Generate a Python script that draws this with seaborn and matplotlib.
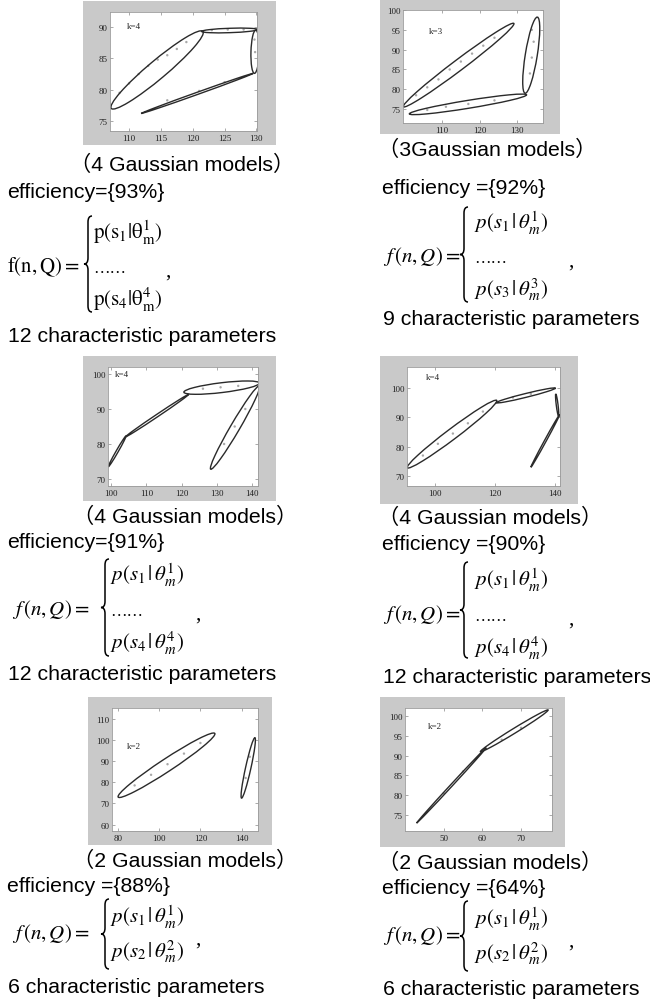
import numpy as np
import pandas as pd
import matplotlib
matplotlib.use("Agg")
import matplotlib.pyplot as plt
import seaborn as sns
from matplotlib.patches import Ellipse, Rectangle, PathPatch
from matplotlib.path import Path
from matplotlib.transforms import Affine2D

# ------------------------------------------------------------------ data
# each ellipse: major-axis end points (x1,y1)-(x2,y2) and minor-axis length w
p1_x1 = [107.2, 121.4, 129.7, 111.9]
p1_y1 = [77.0, 89.3, 82.6, 76.2]
p1_x2 = [121.6, 130.2, 129.9, 129.5]
p1_y2 = [89.3, 89.6, 89.5, 82.6]
p1_w = [2.9, 0.7, 1.3, 0.35]
p1_dx = [108.5, 110.0, 111.5, 113.0, 114.5, 116.0, 117.5, 119.0, 123.0, 125.5, 128.0, 129.8, 129.7, 116.0, 121.0, 125.0]
p1_dy = [79.5, 81.0, 82.5, 83.8, 84.8, 85.5, 86.5, 87.6, 89.5, 89.6, 89.6, 86.0, 88.0, 78.3, 79.8, 81.2]

p2_x1 = [99.6, 101.2, 132.2]
p2_y1 = [75.6, 73.8, 79.0]
p2_x2 = [129.2, 132.6, 135.5]
p2_y2 = [96.6, 78.6, 98.2]
p2_w = [2.8, 2.0, 3.2]
p2_dx = [103.0, 106.0, 109.0, 112.0, 115.0, 118.0, 121.0, 124.0, 106.0, 111.0, 117.0, 124.0, 133.5, 134.0, 134.5, 134.0]
p2_dy = [78.5, 80.5, 82.5, 85.0, 87.0, 89.0, 91.0, 93.0, 74.8, 75.6, 76.3, 77.2, 84.0, 88.0, 92.0, 95.0]

p3_x1 = [99.2, 104.0, 120.6, 128.2]
p3_y1 = [73.5, 82.0, 94.8, 72.8]
p3_x2 = [104.2, 122.0, 142.0, 142.0]
p3_y2 = [82.3, 94.2, 97.4, 96.6]
p3_w = [0.6, 0.7, 2.8, 2.6]
p3_dx = [126.0, 131.0, 136.0, 132.0, 135.0, 138.0]
p3_dy = [95.8, 96.2, 96.6, 80.0, 85.0, 90.0]

p4_x1 = [90.8, 120.4, 140.3, 132.0]
p4_y1 = [72.8, 95.0, 98.0, 73.0]
p4_x2 = [120.6, 140.2, 141.2, 141.6]
p4_y2 = [95.8, 100.0, 90.5, 91.0]
p4_w = [3.6, 1.3, 0.6, 0.6]
p4_dx = [96.0, 101.0, 106.0, 111.0, 116.0, 126.0, 132.0]
p4_dy = [77.0, 81.0, 84.5, 88.0, 92.0, 96.8, 98.0]

p5_x1 = [80.0, 140.0]
p5_y1 = [73.0, 72.5]
p5_x2 = [127.0, 146.5]
p5_y2 = [103.0, 101.0]
p5_w = [6.0, 2.6]
p5_dx = [88.0, 96.0, 104.0, 112.0, 120.0, 142.0, 144.0]
p5_dy = [78.5, 83.5, 88.5, 93.5, 98.5, 82.0, 92.0]

p6_x1 = [43.0, 59.5]
p6_y1 = [73.0, 91.0]
p6_x2 = [61.0, 77.0]
p6_y2 = [92.0, 101.5]
p6_w = [0.5, 1.2]
p6_dx = [50.0, 55.0, 65.0, 70.0]
p6_dy = [80.5, 86.0, 94.0, 97.0]

xlims = [(107.0, 130.1), (99.5, 137.0), (99.1, 141.6), (90.7, 141.7), (77.0, 148.0), (40.0, 78.0)]
ylims = [(73.4, 92.4), (71.5, 100.0), (68.0, 102.0), (66.6, 107.2), (57.0, 115.0), (71.0, 102.0)]
xticks = [[110, 115, 120, 125, 130], [110, 120, 130], [100, 110, 120, 130, 140],
          [100, 120, 140], [80, 100, 120, 140], [50, 60, 70]]
yticks = [[75, 80, 85, 90], [75, 80, 85, 90, 95, 100], [70, 80, 90, 100],
          [70, 80, 90, 100], [60, 70, 80, 90, 100, 110], [75, 80, 85, 90, 95, 100]]
k_labels = ["k=4", "k=3", "k=4", "k=4", "k=2", "k=2"]
k_pos = [(109.6, 90.1), (106.5, 94.7), (101.0, 100.0), (97.0, 103.8), (84.0, 97.0), (46.0, 97.5)]

captions = ["（4 Gaussian models）", "（3Gaussian models）", "（4 Gaussian models）",
            "（4 Gaussian models）", "（2 Gaussian models）", "（2 Gaussian models）"]
efficiencies = ["efficiency={93%}", "efficiency ={92%}", "efficiency={91%}",
                "efficiency ={90%}", "efficiency ={88%}", "efficiency ={64%}"]
param_labels = ["12 characteristic parameters", "9 characteristic parameters",
                "12 characteristic parameters", "12 characteristic parameters",
                "6 characteristic parameters", "6 characteristic parameters"]
first_terms = [r"$\mathrm{p(s_1|\theta_m^1)}$", r"$p(s_1\,|\,\theta_m^1)$", r"$p(s_1\,|\,\theta_m^1)$",
               r"$p(s_1\,|\,\theta_m^1)$", r"$p(s_1\,|\,\theta_m^1)$", r"$p(s_1\,|\,\theta_m^1)$"]
last_terms = [r"$\mathrm{p(s_4|\theta_m^4)}$", r"$p(s_3\,|\,\theta_m^3)$", r"$p(s_4\,|\,\theta_m^4)$",
              r"$p(s_4\,|\,\theta_m^4)$", r"$p(s_2\,|\,\theta_m^2)$", r"$p(s_2\,|\,\theta_m^2)$"]
lhs_terms = [r"$\mathrm{f(n,Q)=}$", r"$f\,(n,Q)=$", r"$f\,(n,Q)=$",
             r"$f\,(n,Q)=$", r"$f\,(n,Q)=$", r"$f\,(n,Q)=$"]

panels = [
    (p1_x1, p1_y1, p1_x2, p1_y2, p1_w, p1_dx, p1_dy),
    (p2_x1, p2_y1, p2_x2, p2_y2, p2_w, p2_dx, p2_dy),
    (p3_x1, p3_y1, p3_x2, p3_y2, p3_w, p3_dx, p3_dy),
    (p4_x1, p4_y1, p4_x2, p4_y2, p4_w, p4_dx, p4_dy),
    (p5_x1, p5_y1, p5_x2, p5_y2, p5_w, p5_dx, p5_dy),
    (p6_x1, p6_y1, p6_x2, p6_y2, p6_w, p6_dx, p6_dy),
]

# ------------------------------------------------------------------ layout (pixels)
W_PX, H_PX, DPI = 650, 1003, 100
gray_boxes = [(83, 2, 276, 146), (380, 0, 560, 135), (83, 357, 276, 502),
              (380, 357, 578, 505), (88, 698, 272, 846), (380, 698, 565, 848)]
axes_boxes = [(110, 13, 257, 132), (403, 11, 543, 124), (108, 368, 258, 487),
              (407, 368, 560, 487), (112, 709, 258, 832), (405, 709, 552, 832)]
text_layout = [
    dict(cap=(70, 165), eff=(7, 193), lhs=(7, 267), brace=(84, 217, 313), tx=93, ty=[233, 267, 300], comma=(165, 272), par=(8, 337)),
    dict(cap=(378, 150), eff=(382, 188), lhs=(383, 257), brace=(460, 208, 303), tx=474, ty=[223, 257, 290], comma=(568, 262), par=(383, 320)),
    dict(cap=(73, 517), eff=(7, 543), lhs=(12, 610), brace=(101, 560, 657), tx=110, ty=[575, 610, 643], comma=(195, 615), par=(8, 675)),
    dict(cap=(378, 518), eff=(382, 545), lhs=(383, 615), brace=(460, 563, 659), tx=474, ty=[580, 615, 648], comma=(568, 620), par=(383, 678)),
    dict(cap=(73, 861), eff=(7, 887), lhs=(12, 934), brace=(101, 900, 970), tx=110, ty=[917, None, 952], comma=(195, 940), par=(8, 988)),
    dict(cap=(378, 863), eff=(382, 889), lhs=(383, 936), brace=(460, 902, 972), tx=474, ty=[919, None, 954], comma=(568, 942), par=(383, 990)),
]

# ------------------------------------------------------------------ style
sns.set_theme(style="white")
plt.rcParams["font.family"] = ["Liberation Sans", "Noto Sans CJK SC", "DejaVu Sans"]
plt.rcParams["mathtext.fontset"] = "stix"
plt.rcParams["text.color"] = "black"

fig = plt.figure(figsize=(W_PX / DPI, H_PX / DPI), dpi=DPI)
fig.patch.set_facecolor("white")
pxT = Affine2D().scale(1 / W_PX, -1 / H_PX).translate(0, 1) + fig.transFigure

SANS = ["Liberation Sans", "Noto Sans CJK SC", "DejaVu Sans"]
SERIF = ["Liberation Serif", "DejaVu Serif"]
FS = 15.3


def brace(x, yt, yb, w=8.0, r=6.0):
    xm = x + w / 2
    ym = (yt + yb) / 2
    verts = [(x + w, yt), (xm, yt), (xm, yt + r), (xm, ym - r), (xm, ym), (x, ym),
             (xm, ym), (xm, ym + r), (xm, yb - r), (xm, yb), (x + w, yb)]
    codes = [Path.MOVETO, Path.CURVE3, Path.CURVE3, Path.LINETO, Path.CURVE3, Path.CURVE3,
             Path.CURVE3, Path.CURVE3, Path.LINETO, Path.CURVE3, Path.CURVE3]
    fig.patches.append(PathPatch(Path(verts, codes), transform=pxT, fill=False,
                                 lw=1.1, edgecolor="black"))


for i, (x1, y1, x2, y2, w, dx, dy) in enumerate(panels):
    gx0, gy0, gx1, gy1 = gray_boxes[i]
    fig.patches.append(Rectangle((gx0, gy0), gx1 - gx0, gy1 - gy0, transform=pxT,
                                 facecolor="#c9c9c9", edgecolor="none", zorder=-5))
    ax0, ay0, ax1, ay1 = axes_boxes[i]
    ax = fig.add_axes([ax0 / W_PX, 1 - ay1 / H_PX, (ax1 - ax0) / W_PX, (ay1 - ay0) / H_PX])
    ax.set_facecolor("white")
    sns.scatterplot(x=dx, y=dy, ax=ax, s=3, color="#a8a8a8", edgecolor="none", legend=False)
    for a, b, c, d, ww in zip(x1, y1, x2, y2, w):
        cx, cy = (a + c) / 2, (b + d) / 2
        length = np.hypot(c - a, d - b)
        ang = np.degrees(np.arctan2(d - b, c - a))
        ax.add_patch(Ellipse((cx, cy), length, ww, angle=ang, fill=False,
                             edgecolor="#2a2a2a", lw=1.0))
    ax.set_xlim(*xlims[i])
    ax.set_ylim(*ylims[i])
    ax.set_xticks(xticks[i])
    ax.set_yticks(yticks[i])
    ax.set_xlabel("")
    ax.set_ylabel("")
    ax.tick_params(direction="in", length=2.5, width=0.5, color="#888888",
                   labelsize=6.5, labelcolor="#222222", pad=2,
                   top=True, right=True, bottom=True, left=True)
    for lab in ax.get_xticklabels() + ax.get_yticklabels():
        lab.set_family(SERIF)
    for s in ax.spines.values():
        s.set_color("#9a9a9a")
        s.set_linewidth(0.6)
    ax.text(k_pos[i][0], k_pos[i][1], k_labels[i], fontsize=6.5, family=SERIF,
            color="#222222", ha="left", va="center")

    L = text_layout[i]
    fig.text(*L["cap"], captions[i], transform=pxT, fontsize=FS, family=SANS, va="center", ha="left", color="black")
    fig.text(*L["eff"], efficiencies[i], transform=pxT, fontsize=FS, family=SANS, va="center", ha="left", color="black")
    fig.text(*L["par"], param_labels[i], transform=pxT, fontsize=FS, family=SANS, va="center", ha="left", color="black")
    fig.text(*L["lhs"], lhs_terms[i], transform=pxT, fontsize=15, va="center", ha="left", color="black")
    bx, bt, bb = L["brace"]
    brace(bx, bt, bb)
    ty = L["ty"]
    fig.text(L["tx"], ty[0], first_terms[i], transform=pxT, fontsize=15, va="center", ha="left", color="black")
    if ty[1] is not None:
        fig.text(L["tx"], ty[1] + 2, "\u2026\u2026", transform=pxT, fontsize=12, family=SERIF,
                 va="center", ha="left", color="black")
    fig.text(L["tx"], ty[2], last_terms[i], transform=pxT, fontsize=15, va="center", ha="left", color="black")
    fig.text(*L["comma"], ",", transform=pxT, fontsize=15, family=SERIF, va="center", ha="left", color="black")

fig.savefig("out.png", dpi=DPI, facecolor="white")
